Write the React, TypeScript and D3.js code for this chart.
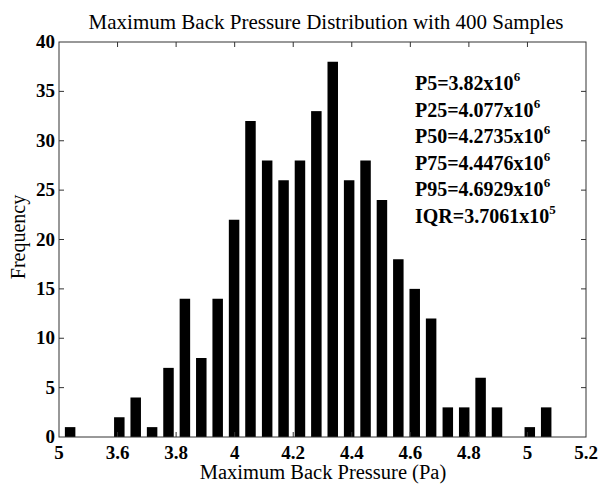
import React, { useRef, useEffect } from "react";
import * as d3 from "d3";

// histogram bin centres (Pa, x10^6) and counts
const binCenters = [
  3.438, 3.494, 3.55, 3.606, 3.662, 3.718, 3.774, 3.83, 3.886, 3.942,
  3.998, 4.054, 4.111, 4.167, 4.223, 4.279, 4.335, 4.391, 4.447, 4.503,
  4.559, 4.615, 4.671, 4.728, 4.784, 4.84, 4.896, 4.952, 5.008, 5.064,
];
const counts = [
  1, 0, 0, 2, 4, 1, 7, 14, 8, 14,
  22, 32, 28, 26, 28, 33, 38, 26, 28, 24,
  18, 15, 12, 3, 3, 6, 3, 0, 1, 3,
];
const xTicks = [3.4, 3.6, 3.8, 4, 4.2, 4.4, 4.6, 4.8, 5, 5.2];
const xTickLabels = ["5", "3.6", "3.8", "4", "4.2", "4.4", "4.6", "4.8", "5", "5.2"];
const yTicks = [0, 5, 10, 15, 20, 25, 30, 35, 40];
const statNames = ["P5", "P25", "P50", "P75", "P95", "IQR"];
const statValues = ["3.82", "4.077", "4.2735", "4.4476", "4.6929", "3.7061"];
const statExps = ["6", "6", "6", "6", "6", "5"];

const App = () => {
  const svgRef = useRef<SVGSVGElement>(null);

  useEffect(() => {
    const W = 599;
    const H = 487;
    const margin = { top: 42, right: 13, bottom: 50, left: 59 };
    const width = W - margin.left - margin.right;
    const height = H - margin.top - margin.bottom;
    const font = "'Liberation Serif', 'Times New Roman', serif";

    const svg = d3.select(svgRef.current);
    svg.selectAll("*").remove();
    svg
      .attr("width", W)
      .attr("height", H)
      .style("display", "block")
      .style("position", "absolute")
      .style("left", "0px")
      .style("top", "0px")
      .style("background", "#fff");

    const g = svg.append("g").attr("transform", `translate(${margin.left},${margin.top})`);

    const x = d3.scaleLinear().domain([3.4, 5.2]).range([0, width]);
    const y = d3.scaleLinear().domain([0, 40]).range([height, 0]);

    const binStep = x(binCenters[1]) - x(binCenters[0]);
    const barW = binStep * 0.64;

    g.selectAll("rect.bar")
      .data(counts)
      .enter()
      .append("rect")
      .attr("class", "bar")
      .attr("x", (_, i) => x(binCenters[i]) - barW / 2)
      .attr("y", (d) => y(d))
      .attr("width", barW)
      .attr("height", (d) => height - y(d))
      .attr("fill", "#000");

    // box
    g.append("rect")
      .attr("x", 0)
      .attr("y", 0)
      .attr("width", width)
      .attr("height", height)
      .attr("fill", "none")
      .attr("stroke", "#333")
      .attr("stroke-width", 1);

    const tl = 5;
    // x ticks (inside, bottom and top)
    g.selectAll("line.xt")
      .data(xTicks.slice(1, -1))
      .enter()
      .append("line")
      .attr("x1", (d) => x(d))
      .attr("x2", (d) => x(d))
      .attr("y1", height)
      .attr("y2", height - tl)
      .attr("stroke", "#333");
    g.selectAll("line.xtt")
      .data(xTicks.slice(1, -1))
      .enter()
      .append("line")
      .attr("x1", (d) => x(d))
      .attr("x2", (d) => x(d))
      .attr("y1", 0)
      .attr("y2", tl)
      .attr("stroke", "#333");
    // y ticks (inside, left and right)
    g.selectAll("line.yt")
      .data(yTicks.slice(1, -1))
      .enter()
      .append("line")
      .attr("x1", 0)
      .attr("x2", tl)
      .attr("y1", (d) => y(d))
      .attr("y2", (d) => y(d))
      .attr("stroke", "#333");
    g.selectAll("line.ytr")
      .data(yTicks.slice(1, -1))
      .enter()
      .append("line")
      .attr("x1", width)
      .attr("x2", width - tl)
      .attr("y1", (d) => y(d))
      .attr("y2", (d) => y(d))
      .attr("stroke", "#333");

    g.selectAll("text.xl")
      .data(xTicks)
      .enter()
      .append("text")
      .attr("x", (d) => x(d))
      .attr("y", height + 22)
      .attr("text-anchor", "middle")
      .attr("font-family", font)
      .attr("font-weight", "bold")
      .attr("font-size", 19)
      .text((_, i) => xTickLabels[i]);

    g.selectAll("text.yl")
      .data(yTicks)
      .enter()
      .append("text")
      .attr("x", -4)
      .attr("y", (d) => y(d) + 6)
      .attr("text-anchor", "end")
      .attr("font-family", font)
      .attr("font-weight", "bold")
      .attr("font-size", 19)
      .text((d) => String(d));

    svg.append("text")
      .attr("x", 326)
      .attr("y", 29)
      .attr("text-anchor", "middle")
      .attr("font-family", font)
      .attr("font-size", 21)
      .text("Maximum Back Pressure Distribution with 400 Samples");

    svg.append("text")
      .attr("x", 323)
      .attr("y", 479)
      .attr("text-anchor", "middle")
      .attr("font-family", font)
      .attr("font-size", 20.5)
      .text("Maximum Back Pressure (Pa)");

    svg.append("text")
      .attr("transform", `translate(25,237) rotate(-90)`)
      .attr("text-anchor", "middle")
      .attr("font-family", font)
      .attr("font-size", 20)
      .text("Frequency");

    // statistics annotation
    const ann = svg.append("g").attr("transform", "translate(415,90)");
    statNames.forEach((n, i) => {
      const t = ann.append("text")
        .attr("x", 0)
        .attr("y", i * 26.6)
        .attr("font-family", font)
        .attr("font-weight", "bold")
        .attr("font-size", 20);
      t.append("tspan").text(`${n}=${statValues[i]}x10`);
      t.append("tspan")
        .attr("dy", -9)
        .attr("font-size", 13)
        .text(statExps[i]);
    });
  }, []);

  return <svg ref={svgRef}></svg>;
};

export default App;
